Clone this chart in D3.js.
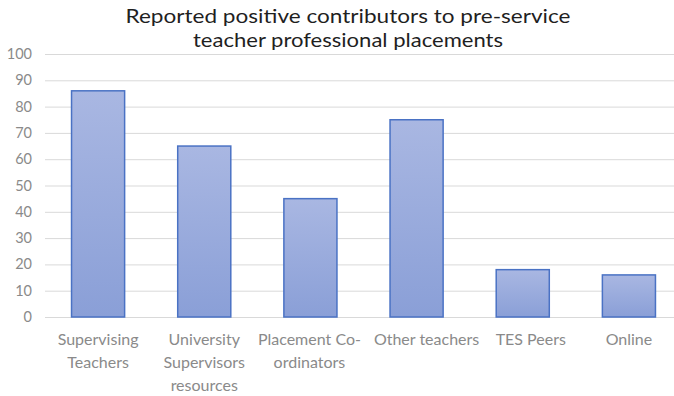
<!DOCTYPE html>
<html><head><meta charset="utf-8">
<script src="https://cdn.jsdelivr.net/npm/d3@7"></script>
<style>body{margin:0;background:#fff}svg{display:block}</style>
</head><body>
<script>
const categories = ["Supervising Teachers","University Supervisors resources","Placement Co-ordinators","Other teachers","TES Peers","Online"];
const categoryLines = [["Supervising","Teachers"],["University","Supervisors","resources"],["Placement Co-","ordinators"],["Other teachers"],["TES Peers"],["Online"]];
const values = [86, 65, 45, 75, 18, 16];
const yTicks = [0,10,20,30,40,50,60,70,80,90,100];
const titleLines = ["Reported positive contributors to pre-service","teacher professional placements"];

const W = 674, H = 396;
const svg = d3.select("body").append("svg").attr("width", W).attr("height", H);
const font = "Lato, 'Open Sans', sans-serif";
const labelNudge = [0, 0, -1, 10, 8, 0];

const defs = svg.append("defs");
const g = defs.append("linearGradient").attr("id","bg").attr("x1",0).attr("y1",0).attr("x2",0).attr("y2",1);
g.append("stop").attr("offset","0%").attr("stop-color","#a9b7e2");
g.append("stop").attr("offset","100%").attr("stop-color","#8a9fd7");

const x = d3.scaleBand().domain(categories).range([45, 682]).paddingInner(0.5).paddingOuter(0.25);
const y = d3.scaleLinear().domain([0,100]).range([317, 54]);

// gridlines
svg.append("g").selectAll("line").data(yTicks).join("line")
  .attr("x1", 45).attr("x2", W).attr("y1", d=>y(d)+0.5).attr("y2", d=>y(d)+0.5)
  .attr("stroke", "#d9d9d9").attr("stroke-width", 1);

// y labels
svg.append("g").selectAll("text").data(yTicks).join("text")
  .attr("x", 32).attr("y", d=>y(d)).attr("dy","0.35em").attr("text-anchor","end")
  .attr("font-family", font).attr("font-size", 14.5).attr("fill", "#8a8a8a")
  .text(d=>d);

// bars
svg.append("g").selectAll("rect").data(values).join("rect")
  .attr("x", (d,i)=>x(categories[i])).attr("width", x.bandwidth())
  .attr("y", d=>y(d)).attr("height", d=>y(0)-y(d))
  .attr("fill","url(#bg)").attr("stroke","#4a72c4").attr("stroke-width",1.5);

// category labels
const lab = svg.append("g").selectAll("text").data(categoryLines).join("text")
  .attr("text-anchor","middle").attr("font-family", font).attr("font-size", 16).attr("fill","#8a8a8a");
lab.each(function(lines,i){
  const t = d3.select(this);
  lines.forEach((l,j)=>{
    t.append("tspan").attr("x", x(categories[i]) + x.bandwidth()/2 + labelNudge[i]).attr("y", 345 + j*23).text(l);
  });
});

// title
const titleWidths = [445, 310];
svg.append("g").selectAll("text").data(titleLines).join("text")
  .attr("x", 348).attr("y", (d,i)=>22.5 + i*24).attr("text-anchor","middle")
  .attr("font-family", font).attr("font-size", 19).attr("fill","#1f1f1f")
  .attr("textLength", (d,i)=>titleWidths[i]).attr("lengthAdjust","spacingAndGlyphs")
  .text(d=>d);
</script>
</body></html>
